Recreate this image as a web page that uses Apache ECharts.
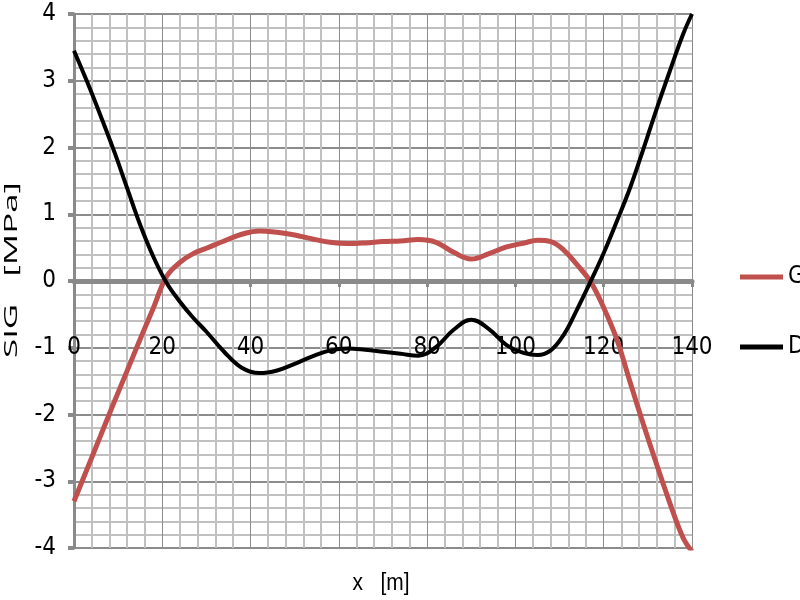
<!DOCTYPE html>
<html>
<head>
<meta charset="utf-8">
<script src="https://cdn.jsdelivr.net/npm/echarts@6/dist/echarts.min.js"></script>
<style>html,body{margin:0;padding:0;background:#fff;}#c{width:800px;height:600px;}</style>
</head>
<body>
<div id="c"></div>
<script>
var xValues = [0, 3, 6, 9, 12, 15, 18, 21, 24, 27, 30, 34, 38, 42, 46, 50, 54, 58, 62, 66, 70, 74, 78, 82, 86, 90, 94, 98, 102, 105, 108, 111, 114, 117, 120, 123, 126, 129, 132, 135, 138, 140];
var seriesG = [-3.3, -2.81, -2.32, -1.83, -1.35, -0.87, -0.4, 0.07, 0.28, 0.41, 0.49, 0.6, 0.7, 0.75, 0.73, 0.69, 0.63, 0.58, 0.56, 0.57, 0.59, 0.6, 0.62, 0.58, 0.43, 0.33, 0.41, 0.51, 0.57, 0.61, 0.59, 0.46, 0.24, -0.01, -0.4, -0.88, -1.52, -2.15, -2.75, -3.33, -3.85, -4.05];
var seriesD = [3.45, 2.98, 2.48, 1.96, 1.4, 0.84, 0.36, -0.03, -0.31, -0.55, -0.76, -1.06, -1.3, -1.38, -1.34, -1.24, -1.13, -1.04, -1.01, -1.03, -1.06, -1.09, -1.12, -0.99, -0.73, -0.58, -0.72, -0.96, -1.08, -1.11, -1.04, -0.8, -0.42, -0.01, 0.42, 0.9, 1.4, 1.98, 2.58, 3.15, 3.7, 4.0];
var seriesNames = ['G', 'D'];
var xTitle = 'x   [m]';
var yTitle = 'SIG   [MPa]';

function pairs(xs, ys) { return xs.map(function (x, i) { return [x, ys[i]]; }); }

var narrow = "'Liberation Sans Narrow', 'DejaVu Sans Condensed', 'Liberation Sans', sans-serif";
var titleFont = "'Liberation Sans', Arial, sans-serif";

function measure(text, font) {
  var c = document.createElement('canvas').getContext('2d');
  c.font = font;
  return c.measureText(text).width;
}
var yTitleW = measure(yTitle, "18px 'Open Sans'");
var xTitleW = measure(xTitle, "18px " + titleFont);

var chart = echarts.init(document.getElementById('c'), null, { renderer: 'canvas' });
chart.setOption({
  animation: false,
  backgroundColor: '#ffffff',
  grid: { left: 74, right: 108, top: 14, bottom: 52, containLabel: false },
  legend: {
    orient: 'vertical', left: 740, top: 265, itemGap: 46, padding: 0,
    itemWidth: 43, itemHeight: 5, icon: 'rect',
    textStyle: { fontFamily: narrow, fontSize: 24, color: '#000', lineHeight: 24 },
    data: seriesNames
  },
  xAxis: {
    type: 'value', min: 0, max: 140, interval: 20,
    position: 'bottom', offset: -267,
    axisLine: { show: true, onZero: false, lineStyle: { color: '#8a8a8a', width: 5 } },
    axisTick: { show: true, length: 6, lineStyle: { color: '#8a8a8a', width: 3 } },
    axisLabel: { margin: 55, fontFamily: narrow, fontSize: 24, color: '#000' },
    splitLine: { show: true, lineStyle: { color: '#8c8c8c', width: 1 } },
    minorTick: { show: false, splitNumber: 5 },
    minorSplitLine: { show: true, lineStyle: { color: '#c0c0c0', width: 2 } }
  },
  yAxis: {
    type: 'value', min: -4, max: 4, interval: 1,
    axisLine: { show: true, onZero: false, lineStyle: { color: '#8a8a8a', width: 3 } },
    axisTick: { show: true, length: 6, lineStyle: { color: '#8a8a8a', width: 4 } },
    axisLabel: { margin: 18, fontFamily: narrow, fontSize: 24, color: '#000' },
    splitLine: { show: true, lineStyle: { color: '#8c8c8c', width: 2 } },
    minorTick: { show: false, splitNumber: 5 },
    minorSplitLine: { show: true, lineStyle: { color: '#c0c0c0', width: 2 } }
  },
  graphic: [
    { type: 'text', x: 12, y: 270, rotation: Math.PI / 2, scaleX: 176 / yTitleW, scaleY: 1,
      style: { text: yTitle, fontFamily: "'Open Sans', 'DejaVu Sans', sans-serif", fontSize: 18, fill: '#000', align: 'center', verticalAlign: 'middle' } },
    { type: 'text', x: 381, y: 583, scaleX: 57 / xTitleW, scaleY: 1.35,
      style: { text: xTitle, fontFamily: titleFont, fontSize: 18, fill: '#000', align: 'center', verticalAlign: 'middle' } }
  ],
  series: [
    { name: seriesNames[0], type: 'line', data: pairs(xValues, seriesG), smooth: 0.4, showSymbol: false,
      lineStyle: { color: '#C0504D', width: 5 }, itemStyle: { color: '#C0504D' }, z: 3 },
    { name: seriesNames[1], type: 'line', data: pairs(xValues, seriesD), smooth: 0.4, showSymbol: false,
      lineStyle: { color: '#000000', width: 4 }, itemStyle: { color: '#000000' }, z: 4 }
  ]
});
</script>
</body>
</html>
